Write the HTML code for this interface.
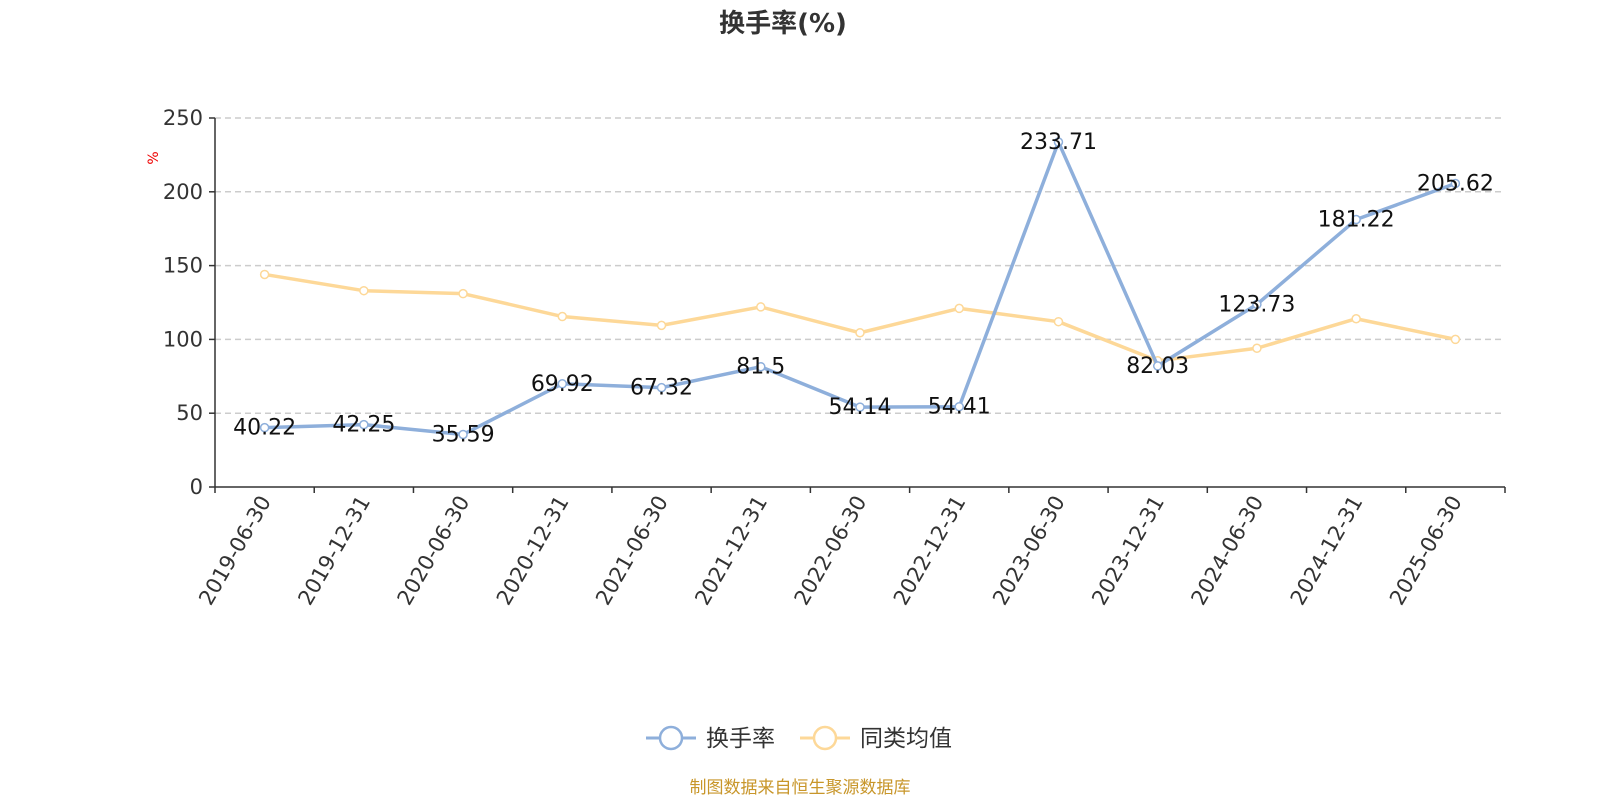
<!DOCTYPE html>
<html><head><meta charset="utf-8"><style>
body{margin:0;background:#fff;}
svg text{font-family:"DejaVu Sans","Noto Sans CJK SC",sans-serif;}
</style></head><body>
<svg id="chart" width="1600" height="800" xmlns="http://www.w3.org/2000/svg">
<text x="783" y="32" text-anchor="middle" font-size="26" font-weight="bold" fill="#333">换手率(%)</text>
<text transform="translate(158,158) rotate(-90)" text-anchor="middle" font-size="14" fill="#e00">%</text>
<g id="grid"></g><g id="axes"></g><g id="series"></g>
<g>
<g>
<line x1="646" y1="738" x2="696" y2="738" stroke="#8eafdb" stroke-width="3"/>
<circle cx="671" cy="738" r="11" fill="#fff" stroke="#8eafdb" stroke-width="2.5"/>
<text x="706" y="746" font-size="23" fill="#333">换手率</text></g>
<g>
<line x1="800" y1="738" x2="850" y2="738" stroke="#fdd898" stroke-width="3"/>
<circle cx="825" cy="738" r="11" fill="#fff" stroke="#fdd898" stroke-width="2.5"/>
<text x="860" y="746" font-size="23" fill="#333">同类均值</text></g>
</g>
<text x="800" y="793" text-anchor="middle" font-size="17" fill="#c8962a">制图数据来自恒生聚源数据库</text>
</svg>
<script>
const categories=["2019-06-30","2019-12-31","2020-06-30","2020-12-31","2021-06-30","2021-12-31","2022-06-30","2022-12-31","2023-06-30","2023-12-31","2024-06-30","2024-12-31","2025-06-30"];
const turnover=[40.22,42.25,35.59,69.92,67.32,81.5,54.14,54.41,233.71,82.03,123.73,181.22,205.62];
const peerAvg=[144,133,131,115.5,109.5,122,104.5,121,112,85.5,94,114,100];
const yTicks=[0,50,100,150,200,250];
const NS="http://www.w3.org/2000/svg";
const x0=215,x1=1505,y0=487,yTop=118,yMax=250;
const bw=(x1-x0)/categories.length;
const X=i=>x0+bw*(i+0.5);
const Y=v=>y0-(v/yMax)*(y0-yTop);
function mk(tag,attrs,parent){const e=document.createElementNS(NS,tag);for(const k in attrs)e.setAttribute(k,attrs[k]);parent.appendChild(e);return e;}
const grid=document.getElementById('grid'),axes=document.getElementById('axes'),ser=document.getElementById('series');
yTicks.forEach(t=>{
 if(t>0){const g=mk('line',{x1:x0,x2:x1,y1:Y(t),y2:Y(t),stroke:'#ccc','stroke-dasharray':'6,4','stroke-width':1.5},grid);
 }
 mk('line',{x1:x0-6,x2:x0,y1:Y(t),y2:Y(t),stroke:'#333','stroke-width':1.5},axes);
 const l=mk('text',{x:x0-12,y:Y(t)+7,'text-anchor':'end','font-size':21,fill:'#333'},axes);l.textContent=t;
 
});
mk('line',{x1:x0,x2:x0,y1:yTop,y2:y0,stroke:'#333','stroke-width':1.5},axes);
mk('line',{x1:x0,x2:x1,y1:y0,y2:y0,stroke:'#333','stroke-width':1.5},axes);
for(let i=0;i<=categories.length;i++){mk('line',{x1:x0+bw*i,x2:x0+bw*i,y1:y0,y2:y0+6,stroke:'#333','stroke-width':1.5},axes);}
categories.forEach((c,i)=>{
 const t=mk('text',{transform:`translate(${X(i)+7},${y0+14}) rotate(-60)`,'text-anchor':'end','font-size':21,fill:'#333'},axes);t.textContent=c;
 
});
function drawSeries(vals,color,name){
 const p=mk('polyline',{points:vals.map((v,i)=>X(i)+','+Y(v)).join(' '),fill:'none',stroke:color,'stroke-width':3.5,'stroke-linejoin':'round'},ser);
 
 vals.forEach((v,i)=>{
  const c=mk('circle',{cx:X(i),cy:Y(v),r:4,fill:'#fff',stroke:color,'stroke-width':1.5},ser);
  
 });
}
drawSeries(peerAvg,'#fdd898','peer-average');
drawSeries(turnover,'#8eafdb','turnover');
turnover.forEach((v,i)=>{
 const t=mk('text',{x:X(i),y:Y(v)+7,'text-anchor':'middle','font-size':22,fill:'#111'},ser);t.textContent=v;
 
});
</script>
</body></html>
